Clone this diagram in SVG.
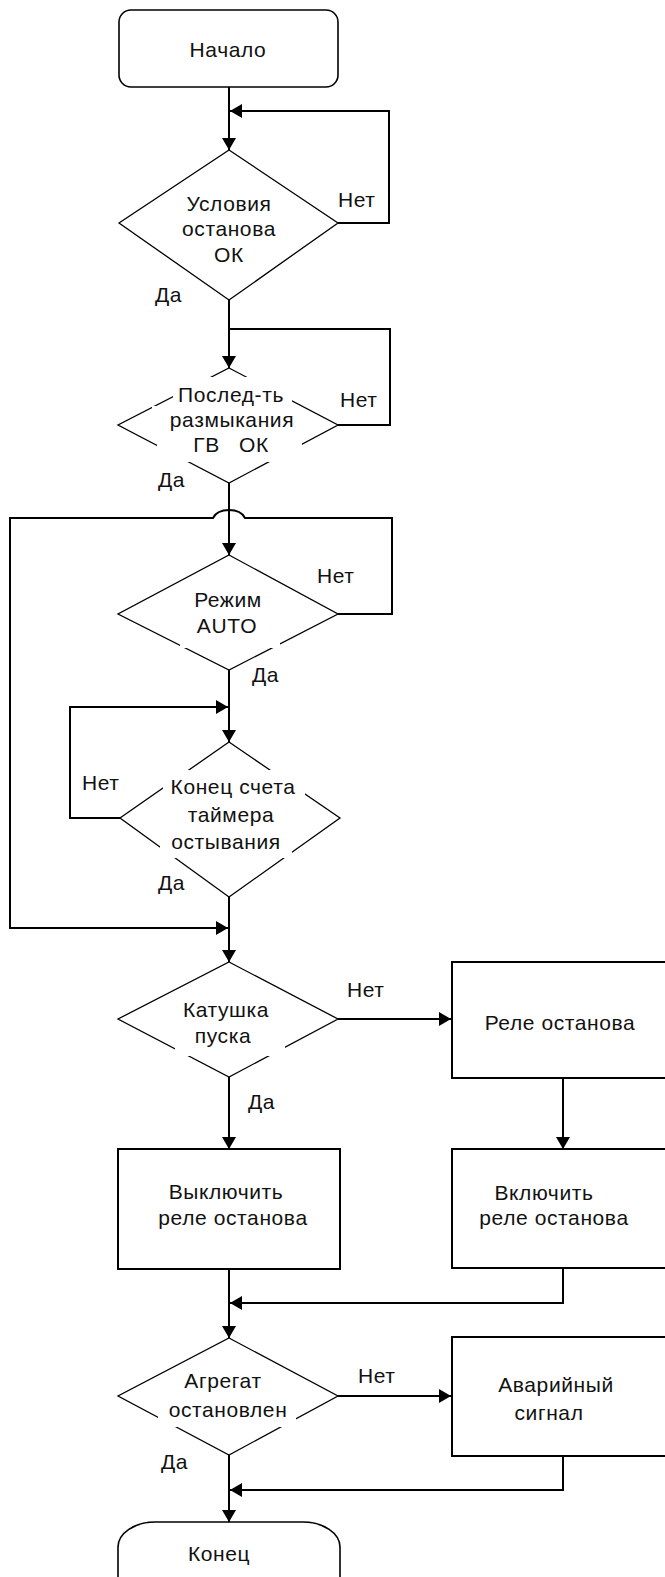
<svg xmlns="http://www.w3.org/2000/svg" width="665" height="1577" viewBox="0 0 665 1577">
<style>
.n{fill:#fff;stroke:#000;stroke-width:1.3}
.b{fill:#fff;stroke:#000;stroke-width:2}
.bg{fill:#fff;stroke:none}
.c{fill:none;stroke:#000;stroke-width:2}
.t{font-family:"Liberation Sans",Arial,sans-serif;font-size:21px;letter-spacing:0.6px;fill:#111}
.m{text-anchor:middle}
</style>
<defs>
<marker id="ah" viewBox="0 0 12 14" refX="12" refY="7" markerWidth="12" markerHeight="14" markerUnits="userSpaceOnUse" orient="auto">
<path d="M0,0 L12,7 L0,14 z" fill="#000"/>
</marker>
</defs>
<rect width="665" height="1577" fill="#fff"/>

<g id="connectors">
<path class="c" d="M229,87 L229,150" marker-end="url(#ah)"/>
<path class="c" d="M338,223 L389,223 L389,111 L230,111" marker-end="url(#ah)"/>
<path class="c" d="M229,300 L229,368" marker-end="url(#ah)"/>
<path class="c" d="M338,425 L390,425 L390,329 L229,329"/>
<path class="c" d="M229,483 L229,555" marker-end="url(#ah)"/>
<path class="c" d="M338,614 L392,614 L392,518 L245,518 Q241,510 229,510 Q217,510 213,518 L10,518 L10,928 L228,928" marker-end="url(#ah)"/>
<path class="c" d="M229,670 L229,742" marker-end="url(#ah)"/>
<path class="c" d="M120,818 L70,818 L70,707 L228,707" marker-end="url(#ah)"/>
<path class="c" d="M229,897 L229,962" marker-end="url(#ah)"/>
<path class="c" d="M338,1019 L451,1019" marker-end="url(#ah)"/>
<path class="c" d="M229,1077 L229,1149" marker-end="url(#ah)"/>
<path class="c" d="M563,1078 L563,1149" marker-end="url(#ah)"/>
<path class="c" d="M229,1269 L229,1338" marker-end="url(#ah)"/>
<path class="c" d="M563,1268 L563,1303 L230,1303" marker-end="url(#ah)"/>
<path class="c" d="M338,1396 L451,1396" marker-end="url(#ah)"/>
<path class="c" d="M229,1455 L229,1522" marker-end="url(#ah)"/>
<path class="c" d="M563,1456 L563,1490 L230,1490" marker-end="url(#ah)"/>
</g>

<g id="start">
<rect class="n" x="119" y="10" width="219" height="77" rx="12" ry="12" style="stroke-width:1.6"/>
<text class="t m" x="228" y="57">Начало</text>
</g>

<g id="d1">
<polygon class="n" points="229,150 338,223 229,300 119,223"/>
<text class="t m" x="229" y="211">Условия</text>
<text class="t m" x="229" y="236">останова</text>
<text class="t m" x="229" y="262">ОК</text>
</g>

<g id="d2">
<polygon class="n" points="229,368 338,425 229,483 118,425"/>
<rect class="bg" x="173" y="377" width="119" height="29"/>
<rect class="bg" x="152" y="406" width="148" height="26"/>
<rect class="bg" x="157" y="432" width="145" height="30"/>
<text class="t m" x="231" y="402">Послед-ть</text>
<text class="t m" x="232" y="427">размыкания</text>
<text class="t m" x="231" y="452" xml:space="preserve">ГВ   ОК</text>
</g>

<g id="d3">
<polygon class="n" points="229,555 338,614 229,670 118,614"/>
<rect class="bg" x="180" y="617" width="100" height="31"/>
<text class="t m" x="228" y="607">Режим</text>
<text class="t m" x="227" y="633">AUTO</text>
</g>

<g id="d4">
<polygon class="n" points="229,742 340,818 229,897 120,818"/>
<rect class="bg" x="163" y="770" width="142" height="27"/>
<rect class="bg" x="160" y="828" width="132" height="30"/>
<text class="t m" x="233" y="794">Конец счета</text>
<text class="t m" x="231" y="822">таймера</text>
<text class="t m" x="226" y="849">остывания</text>
</g>

<g id="d5">
<polygon class="n" points="229,962 338,1019 229,1077 118,1019"/>
<rect class="bg" x="175" y="1028" width="110" height="28"/>
<text class="t m" x="226" y="1017">Катушка</text>
<text class="t m" x="223" y="1043">пуска</text>
</g>

<g id="relay">
<rect class="b" x="452" y="962" width="230" height="116"/>
<text class="t m" x="560" y="1030">Реле останова</text>
</g>

<g id="off">
<rect class="b" x="118" y="1149" width="222" height="120"/>
<text class="t m" x="226" y="1199">Выключить</text>
<text class="t m" x="233" y="1225">реле останова</text>
</g>

<g id="on">
<rect class="b" x="452" y="1149" width="230" height="119"/>
<text class="t m" x="544" y="1200">Включить</text>
<text class="t m" x="554" y="1225">реле останова</text>
</g>

<g id="d6">
<polygon class="n" points="229,1338 338,1396 229,1455 118,1396"/>
<rect class="bg" x="158" y="1396" width="138" height="31"/>
<text class="t m" x="223" y="1388">Агрегат</text>
<text class="t m" x="228" y="1417">остановлен</text>
</g>

<g id="alarm">
<rect class="b" x="452" y="1337" width="230" height="119"/>
<text class="t m" x="556" y="1392">Аварийный</text>
<text class="t m" x="549" y="1420">сигнал</text>
</g>

<g id="end">
<rect class="n" x="118" y="1522" width="222" height="90" rx="37" ry="25" style="stroke-width:1.6"/>
<text class="t m" x="219" y="1561">Конец</text>
</g>

<g id="labels">
<text class="t" x="338" y="207">Нет</text>
<text class="t" x="155" y="302">Да</text>
<text class="t" x="340" y="407">Нет</text>
<text class="t" x="158" y="487">Да</text>
<text class="t" x="317" y="583">Нет</text>
<text class="t" x="252" y="682">Да</text>
<text class="t" x="82" y="790">Нет</text>
<text class="t" x="158" y="890">Да</text>
<text class="t" x="347" y="997">Нет</text>
<text class="t" x="248" y="1109">Да</text>
<text class="t" x="358" y="1383">Нет</text>
<text class="t" x="161" y="1469">Да</text>
</g>
</svg>
